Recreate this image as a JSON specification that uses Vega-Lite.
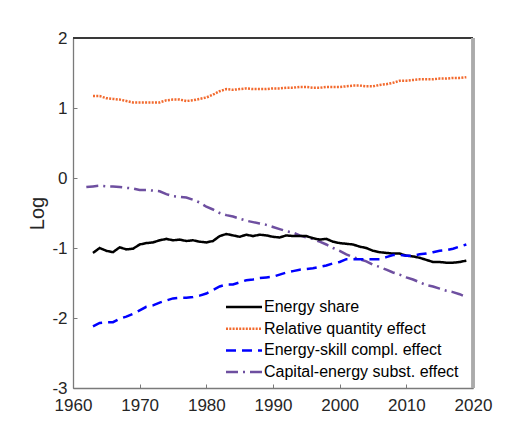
{
  "$schema": "https://vega.github.io/schema/vega-lite/v6.json",
  "width": 400,
  "height": 350,
  "autosize": {"type": "none"},
  "padding": {"left": 73, "top": 38, "right": 47, "bottom": 45},
  "background": "white",
  "config": {
    "font": "Liberation Sans",
    "view": {"stroke": null},
    "axis": {"grid": false, "labelFont": "Liberation Sans", "titleFont": "Liberation Sans", "labelColor": "#262626", "titleColor": "#262626", "labelFontSize": 17}
  },
  "data": {"values": [
    {"year": 1962, "ce": -0.13},
    {"year": 1963, "es": -1.07, "rq": 1.17, "sk": -2.12, "ce": -0.12},
    {"year": 1964, "es": -1.00, "rq": 1.17, "sk": -2.07, "ce": -0.11},
    {"year": 1965, "es": -1.04, "rq": 1.14, "sk": -2.06, "ce": -0.12},
    {"year": 1966, "es": -1.06, "rq": 1.13, "sk": -2.06, "ce": -0.12},
    {"year": 1967, "es": -0.99, "rq": 1.12, "sk": -2.01, "ce": -0.13},
    {"year": 1968, "es": -1.02, "rq": 1.10, "sk": -1.98, "ce": -0.14},
    {"year": 1969, "es": -1.01, "rq": 1.08, "sk": -1.94, "ce": -0.15},
    {"year": 1970, "es": -0.95, "rq": 1.08, "sk": -1.89, "ce": -0.17},
    {"year": 1971, "es": -0.93, "rq": 1.08, "sk": -1.84, "ce": -0.17},
    {"year": 1972, "es": -0.92, "rq": 1.08, "sk": -1.82, "ce": -0.18},
    {"year": 1973, "es": -0.89, "rq": 1.08, "sk": -1.78, "ce": -0.19},
    {"year": 1974, "es": -0.87, "rq": 1.11, "sk": -1.75, "ce": -0.23},
    {"year": 1975, "es": -0.89, "rq": 1.12, "sk": -1.72, "ce": -0.26},
    {"year": 1976, "es": -0.88, "rq": 1.12, "sk": -1.71, "ce": -0.27},
    {"year": 1977, "es": -0.90, "rq": 1.10, "sk": -1.71, "ce": -0.28},
    {"year": 1978, "es": -0.89, "rq": 1.11, "sk": -1.70, "ce": -0.31},
    {"year": 1979, "es": -0.91, "rq": 1.13, "sk": -1.68, "ce": -0.35},
    {"year": 1980, "es": -0.92, "rq": 1.15, "sk": -1.65, "ce": -0.41},
    {"year": 1981, "es": -0.90, "rq": 1.19, "sk": -1.60, "ce": -0.45},
    {"year": 1982, "es": -0.83, "rq": 1.24, "sk": -1.55, "ce": -0.50},
    {"year": 1983, "es": -0.80, "rq": 1.27, "sk": -1.52, "ce": -0.53},
    {"year": 1984, "es": -0.82, "rq": 1.26, "sk": -1.52, "ce": -0.55},
    {"year": 1985, "es": -0.84, "rq": 1.27, "sk": -1.49, "ce": -0.58},
    {"year": 1986, "es": -0.81, "rq": 1.28, "sk": -1.46, "ce": -0.61},
    {"year": 1987, "es": -0.83, "rq": 1.27, "sk": -1.45, "ce": -0.63},
    {"year": 1988, "es": -0.81, "rq": 1.27, "sk": -1.43, "ce": -0.65},
    {"year": 1989, "es": -0.82, "rq": 1.27, "sk": -1.42, "ce": -0.67},
    {"year": 1990, "es": -0.84, "rq": 1.28, "sk": -1.41, "ce": -0.70},
    {"year": 1991, "es": -0.85, "rq": 1.28, "sk": -1.38, "ce": -0.73},
    {"year": 1992, "es": -0.82, "rq": 1.29, "sk": -1.35, "ce": -0.76},
    {"year": 1993, "es": -0.83, "rq": 1.29, "sk": -1.33, "ce": -0.78},
    {"year": 1994, "es": -0.83, "rq": 1.30, "sk": -1.31, "ce": -0.82},
    {"year": 1995, "es": -0.83, "rq": 1.30, "sk": -1.30, "ce": -0.85},
    {"year": 1996, "es": -0.86, "rq": 1.29, "sk": -1.29, "ce": -0.87},
    {"year": 1997, "es": -0.88, "rq": 1.29, "sk": -1.27, "ce": -0.91},
    {"year": 1998, "es": -0.87, "rq": 1.30, "sk": -1.25, "ce": -0.95},
    {"year": 1999, "es": -0.91, "rq": 1.30, "sk": -1.22, "ce": -1.00},
    {"year": 2000, "es": -0.93, "rq": 1.30, "sk": -1.20, "ce": -1.04},
    {"year": 2001, "es": -0.94, "rq": 1.31, "sk": -1.16, "ce": -1.09},
    {"year": 2002, "es": -0.95, "rq": 1.32, "sk": -1.16, "ce": -1.13},
    {"year": 2003, "es": -0.98, "rq": 1.32, "sk": -1.16, "ce": -1.16},
    {"year": 2004, "es": -1.00, "rq": 1.31, "sk": -1.16, "ce": -1.19},
    {"year": 2005, "es": -1.04, "rq": 1.31, "sk": -1.16, "ce": -1.24},
    {"year": 2006, "es": -1.06, "rq": 1.33, "sk": -1.16, "ce": -1.27},
    {"year": 2007, "es": -1.07, "rq": 1.34, "sk": -1.13, "ce": -1.31},
    {"year": 2008, "es": -1.08, "rq": 1.36, "sk": -1.10, "ce": -1.35},
    {"year": 2009, "es": -1.08, "rq": 1.39, "sk": -1.10, "ce": -1.38},
    {"year": 2010, "es": -1.11, "rq": 1.39, "sk": -1.11, "ce": -1.42},
    {"year": 2011, "es": -1.12, "rq": 1.40, "sk": -1.11, "ce": -1.45},
    {"year": 2012, "es": -1.14, "rq": 1.41, "sk": -1.09, "ce": -1.49},
    {"year": 2013, "es": -1.17, "rq": 1.41, "sk": -1.08, "ce": -1.53},
    {"year": 2014, "es": -1.20, "rq": 1.41, "sk": -1.06, "ce": -1.55},
    {"year": 2015, "es": -1.20, "rq": 1.42, "sk": -1.04, "ce": -1.58},
    {"year": 2016, "es": -1.21, "rq": 1.42, "sk": -1.03, "ce": -1.61},
    {"year": 2017, "es": -1.21, "rq": 1.43, "sk": -1.01, "ce": -1.63},
    {"year": 2018, "es": -1.20, "rq": 1.43, "sk": -0.98, "ce": -1.66},
    {"year": 2019, "es": -1.18, "rq": 1.44, "sk": -0.95, "ce": -1.70}
  ]},
  "layer": [
    {
      "transform": [
        {"fold": ["es", "rq", "sk", "ce"], "as": ["series", "value"]},
        {"filter": "isValid(datum.value)"}
      ],
      "mark": {"type": "line", "strokeWidth": 2.5, "clip": true},
      "encoding": {
        "x": {"field": "year", "type": "quantitative", "scale": {"domain": [1960, 2020], "nice": false, "zero": false},
              "axis": {"title": null, "values": [1960, 1970, 1980, 1990, 2000, 2010, 2020], "labelExpr": "'' + datum.value", "domainColor": "#7a7a7a", "domainWidth": 1.3, "tickColor": "#7a7a7a", "tickSize": -4, "labelPadding": 13, "labelFlush": false}},
        "y": {"field": "value", "type": "quantitative", "scale": {"domain": [-3, 2], "nice": false, "zero": false},
              "axis": {"title": "Log", "titleFontSize": 20, "titleFontWeight": "normal", "titlePadding": 4, "values": [-3, -2, -1, 0, 1, 2], "labelExpr": "'' + datum.value", "domainColor": "#7a7a7a", "domainWidth": 1.3, "tickColor": "#7a7a7a", "tickSize": -4, "labelPadding": 10}},
        "color": {"field": "series", "type": "nominal",
                  "scale": {"domain": ["es", "rq", "sk", "ce"], "range": ["#000000", "#F26A2E", "#0000FF", "#6E4FA0"]},
                  "legend": {"title": null, "orient": "none", "legendX": 163, "legendY": 261, "symbolType": "M-3.6,0H3.6", "symbolSize": 100, "symbolStrokeWidth": 2.5, "labelFontSize": 16, "labelColor": "#000000", "labelOffset": 12, "labelLimit": 400, "rowPadding": 5.7, "padding": 0,
                             "labelExpr": "{'es': 'Energy share', 'rq': 'Relative quantity effect', 'sk': 'Energy-skill compl. effect', 'ce': 'Capital-energy subst. effect'}[datum.value]"}},
        "strokeDash": {"field": "series", "type": "nominal",
                  "scale": {"domain": ["es", "rq", "sk", "ce"], "range": [[1, 0], [2, 1.3], [10, 6], [12, 5, 2, 5]]},
                  "legend": {"title": null, "orient": "none", "legendX": 163, "legendY": 261, "symbolType": "M-3.6,0H3.6", "symbolSize": 100, "symbolStrokeWidth": 2.5, "labelFontSize": 16, "labelColor": "#000000", "labelOffset": 12, "labelLimit": 400, "rowPadding": 5.7, "padding": 0,
                             "labelExpr": "{'es': 'Energy share', 'rq': 'Relative quantity effect', 'sk': 'Energy-skill compl. effect', 'ce': 'Capital-energy subst. effect'}[datum.value]"}}
      }
    },
    {
      "mark": {"type": "rule", "color": "#3a3a3a", "strokeWidth": 1.3},
      "encoding": {"y": {"datum": 2}}
    },
    {
      "mark": {"type": "rule", "color": "#ababab", "strokeWidth": 2.2},
      "encoding": {"x": {"datum": 2020}}
    }
  ]
}
